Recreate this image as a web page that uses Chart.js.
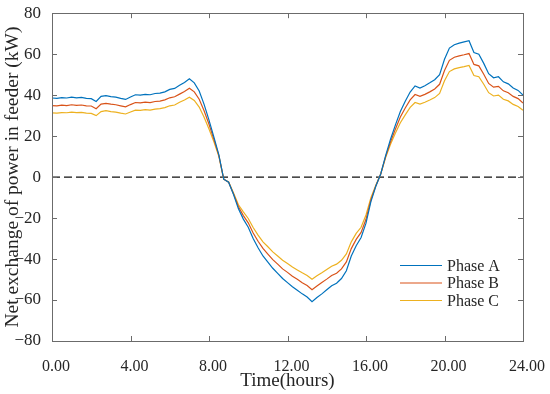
<!DOCTYPE html>
<html>
<head>
<meta charset="utf-8">
<script src="https://cdn.jsdelivr.net/npm/chart.js@4"></script>
<style>
  html, body { margin: 0; padding: 0; background: #fff; }
  .wrap { width: 550px; height: 394px; }
</style>
</head>
<body>
<div class="wrap"><canvas id="myChart"></canvas></div>
<script>
// data (hours of the day, one sample every 15 minutes)
const hours = [
    0, 0.25, 0.5, 0.75, 1, 1.25, 1.5, 1.75, 2, 2.25, 2.5, 2.75,
    3, 3.25, 3.5, 3.75, 4, 4.25, 4.5, 4.75, 5, 5.25, 5.5, 5.75,
    6, 6.25, 6.5, 6.75, 7, 7.25, 7.5, 7.75, 8, 8.25, 8.5, 8.75,
    9, 9.25, 9.5, 9.75, 10, 10.25, 10.5, 10.75, 11, 11.25, 11.5, 11.75,
    12, 12.25, 12.5, 12.75, 13, 13.25, 13.5, 13.75, 14, 14.25, 14.5, 14.75,
    15, 15.25, 15.5, 15.75, 16, 16.25, 16.5, 16.75, 17, 17.25, 17.5, 17.75,
    18, 18.25, 18.5, 18.75, 19, 19.25, 19.5, 19.75, 20, 20.25, 20.5, 20.75,
    21, 21.25, 21.5, 21.75, 22, 22.25, 22.5, 22.75, 23, 23.25, 23.5, 23.75,
    24
];

const phaseA = [
    38.6, 38.4, 38.8, 38.6,   39.0, 38.7, 38.9, 38.4,   38.3, 36.9, 39.4, 39.8,
    39.3, 39.0, 38.4, 37.9,   39.1, 40.2, 40.0, 40.4,   40.2, 40.8, 41.0, 41.6,
    42.8, 43.3, 44.8, 46.2,   48.0, 46.0, 42.0, 35.5,   27.8, 19.5, 11.0, -1.0,
    -2.5, -8.5, -15.5, -20.5, -24.5, -30.0, -34.5, -38.5, -41.5, -44.5, -47.0, -49.5,
    -51.5, -53.5, -55.2, -57.0, -58.5, -60.8, -58.8, -57.0, -55.0, -53.0, -51.8, -49.5,
    -45.7, -38.5, -33.5, -29.5, -22.5, -12.0, -4.5, 1.5,  10.5, 18.5, 25.5, 32.0,
    37.0, 41.5, 44.5, 43.5,   44.6, 46.0, 47.5, 50.0,   57.5, 63.0, 64.6, 65.4,
    66.0, 66.6, 60.8, 60.0,   55.5, 50.5, 48.5, 49.0,   46.5, 45.5, 43.5, 42.3,
    40.0
];

const phaseB = [
    34.9, 34.8, 35.1, 34.9,   35.3, 35.0, 35.2, 34.8,   34.7, 33.4, 35.6, 36.0,
    35.6, 35.3, 34.8, 34.3,   35.4, 36.4, 36.2, 36.6,   36.4, 36.9, 37.1, 37.7,
    38.7, 39.2, 40.5, 41.8,   43.4, 41.6, 38.0, 32.4,   25.8, 18.4, 10.6, -1.0,
    -2.5, -8.2, -14.5, -18.8, -22.3, -27.3, -31.3, -34.8, -37.6, -40.3, -42.5, -44.8,
    -46.5, -48.4, -49.9, -51.6, -52.9, -55.0, -53.2, -51.5, -49.8, -48.0, -46.9, -44.8,
    -41.4, -34.9, -30.4, -27.0, -20.6, -11.2, -4.3, 1.5,  10.0, 17.2, 23.5, 29.3,
    33.7, 37.7, 40.3, 39.4,   40.4, 41.6, 43.0, 45.3,   52.0, 57.0, 58.5, 59.2,
    59.7, 60.3, 55.0, 54.3,   50.2, 45.7, 43.9, 44.3,   42.1, 41.2, 39.4, 38.3,
    36.2
];

const phaseC = [
    31.3, 31.2, 31.5, 31.4,   31.7, 31.5, 31.6, 31.2,   31.1, 30.0, 32.0, 32.4,
    32.0, 31.7, 31.2, 30.8,   31.8, 32.7, 32.6, 32.9,   32.7, 33.2, 33.4, 33.9,
    34.8, 35.2, 36.5, 37.6,   39.0, 37.4, 34.2, 29.2,   23.5, 17.2, 10.2, -1.0,
    -2.4, -7.8, -13.5, -17.0, -20.2, -24.6, -28.3, -31.6, -34.0, -36.5, -38.5, -40.6,
    -42.2, -43.9, -45.3, -46.7, -48.0, -49.9, -48.2, -46.7, -45.1, -43.5, -42.5, -40.6,
    -37.5, -31.6, -27.5, -24.5, -18.5, -10.0, -4.0, 1.5,  9.5, 16.0, 21.5, 26.5,
    30.4, 34.0, 36.4, 35.6,   36.5, 37.6, 38.8, 40.8,   47.0, 51.5, 52.8, 53.4,
    53.9, 54.5, 49.6, 49.0,   45.3, 41.2, 39.6, 40.0,   38.0, 37.2, 35.5, 34.5,
    32.6
];

// dashed reference line at zero
const zeroHours = [0, 24];
const zeroLine = [0, 0];

const seriesNames = ['Phase A', 'Phase B', 'Phase C'];
const seriesColors = ['#0072BD', '#D95319', '#EDB120'];

const FONT = "'Liberation Serif', 'Times New Roman', serif";
const TEXT_COLOR = '#262626';
const AXIS_COLOR = '#6b6b6b';
const TICK = 5;

const toPoints = (xs, ys) => xs.map((h, i) => ({ x: h, y: ys[i] }));

// box round the plot, inward ticks, legend inside lower right
const frame = {
    id: 'frame',
    afterDatasetsDraw(chart) {
        const { ctx, chartArea: a, scales: { x, y } } = chart;
        ctx.save();
        ctx.strokeStyle = AXIS_COLOR;
        ctx.lineWidth = 1;
        ctx.strokeRect(Math.round(a.left) + 0.5, Math.round(a.top) + 0.5,
            Math.round(a.right - a.left), Math.round(a.bottom - a.top));
        ctx.beginPath();
        x.ticks.forEach(t => {
            const px = Math.round(x.getPixelForValue(t.value)) + 0.5;
            ctx.moveTo(px, a.bottom); ctx.lineTo(px, a.bottom - TICK);
            ctx.moveTo(px, a.top); ctx.lineTo(px, a.top + TICK);
        });
        y.ticks.forEach(t => {
            const py = Math.round(y.getPixelForValue(t.value)) + 0.5;
            ctx.moveTo(a.left, py); ctx.lineTo(a.left + TICK, py);
            ctx.moveTo(a.right, py); ctx.lineTo(a.right - TICK, py);
        });
        ctx.stroke();

        // legend
        ctx.font = '16px ' + FONT;
        ctx.textBaseline = 'middle';
        ctx.fillStyle = TEXT_COLOR;
        chart.data.datasets.slice(0, 3).forEach((ds, i) => {
            const ly = a.bottom - 75.5 + i * 17.5;
            ctx.strokeStyle = ds.borderColor;
            ctx.lineWidth = 1.2;
            ctx.beginPath();
            ctx.moveTo(a.right - 123, ly);
            ctx.lineTo(a.right - 81, ly);
            ctx.stroke();
            ctx.fillText(ds.label, a.right - 76, ly + 1);
        });
        ctx.restore();
    }
};

const ctx = document.getElementById('myChart');

let myChart = new Chart(ctx, {
    type: 'line',
    data: {
        datasets: [
            {
                label: seriesNames[0],
                data: toPoints(hours, phaseA),
                borderColor: seriesColors[0],
            },
            {
                label: seriesNames[1],
                data: toPoints(hours, phaseB),
                borderColor: seriesColors[1],
            },
            {
                label: seriesNames[2],
                data: toPoints(hours, phaseC),
                borderColor: seriesColors[2],
            },
            {
                label: 'zero',
                data: toPoints(zeroHours, zeroLine),
                borderColor: '#111111',
                borderDash: [8, 4],
                borderWidth: 1.3,
            }
        ]
    },
    options: {
        responsive: true,
        maintainAspectRatio: false,
        animation: false,
        layout: {
            padding: { top: 10, right: 27, bottom: 0, left: 0 }
        },
        elements: {
            point: { radius: 0 },
            line: { borderWidth: 1.2, tension: 0 }
        },
        plugins: {
            legend: { display: false },
            tooltip: { enabled: false }
        },
        scales: {
            x: {
                type: 'linear',
                min: 0,
                max: 24,
                afterFit: (scale) => { scale.height = 53; },
                grid: { display: false },
                border: { display: false },
                ticks: {
                    stepSize: 4,
                    padding: 8,
                    labelOffset: 4,
                    color: TEXT_COLOR,
                    font: { family: FONT, size: 16 },
                    maxRotation: 0,
                    callback: (value) => value.toFixed(2)
                },
                title: {
                    display: true,
                    text: 'Time(hours)',
                    color: TEXT_COLOR,
                    font: { family: FONT, size: 19 },
                    padding: { top: 0, bottom: 2 }
                }
            },
            y: {
                min: -80,
                max: 80,
                afterFit: (scale) => { scale.width = 52; },
                grid: { display: false },
                border: { display: false },
                ticks: {
                    stepSize: 20,
                    padding: 3,
                    color: TEXT_COLOR,
                    font: { family: FONT, size: 17 },
                    callback: (value) => String(value).replace('-', '\u2212')
                },
                title: {
                    display: true,
                    text: 'Net exchange of power in feeder (kW)',
                    color: TEXT_COLOR,
                    font: { family: FONT, size: 19.5 },
                    padding: { top: 1, bottom: 0 }
                }
            }
        }
    },
    plugins: [frame]
});
</script>
</body>
</html>
